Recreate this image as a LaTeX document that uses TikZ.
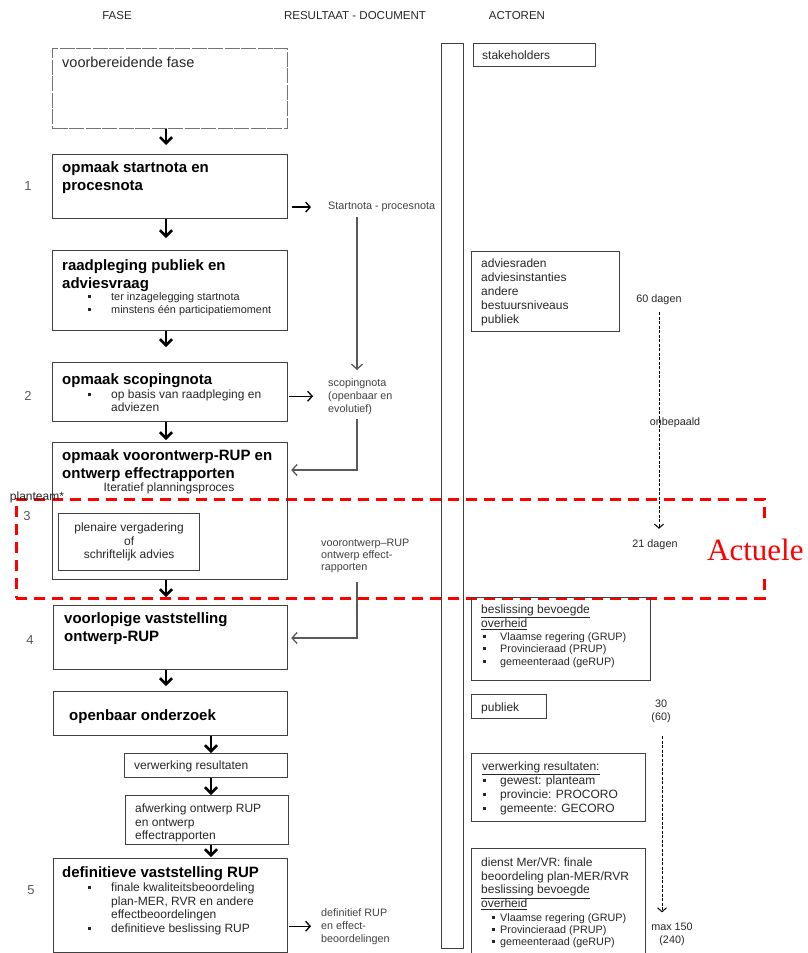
\documentclass[tikz,border=0pt]{standalone}
\usepackage{fontspec}
\setmainfont{Liberation Sans}
\newfontfamily\serifred{Liberation Serif}
\usetikzlibrary{arrows.meta}
\definecolor{boxc}{gray}{0.25}
\definecolor{txtc}{gray}{0.15}
\definecolor{smc}{gray}{0.25}
\definecolor{numc}{gray}{0.35}
\newcommand\mybul{\makebox[23pt][l]{\rule[2.4pt]{3pt}{3pt}}}
\newcommand\mybulb{\makebox[17pt][l]{\rule[2.4pt]{3pt}{3pt}}}
\newcommand\mybulc{\makebox[8pt][l]{\rule[2.2pt]{2.6pt}{2.6pt}}}
\begin{document}
\begin{tikzpicture}[x=1pt,y=-1pt,
  box/.style={draw=boxc, line width=1.2pt, inner sep=0pt, anchor=north west},
  txt/.style={inner sep=0pt, anchor=north west, align=left, text=txtc},
  ttl/.style={txt, font=\fontsize{15}{18}\selectfont\bfseries, text=black},
  nrm/.style={txt, font=\fontsize{12}{13.5}\selectfont},
  sml/.style={txt, font=\fontsize{10.8}{13}\selectfont, text=smc},
  hdr/.style={inner sep=0pt, font=\fontsize{11.5}{13}\selectfont, text=txtc},
  num/.style={inner sep=0pt, font=\fontsize{13}{15}\selectfont, text=numc},
  thk/.style={line width=2.2pt, -{Straight Barb[length=6pt,width=12pt,line width=2.6pt]}},
  blk/.style={line width=1.3pt, -{Straight Barb[length=4.5pt,width=10pt]}},
  gr/.style={draw=black!65, line width=1.3pt, -{Straight Barb[length=5pt,width=11pt]}},
  dsh/.style={line width=1pt, dash pattern=on 3pt off 1.5pt, -{Straight Barb[length=4pt,width=9pt]}},
  redbox/.style={draw=red, line width=2.6pt, dash pattern=on 11pt off 7pt, inner sep=0pt, anchor=north west}]
\useasboundingbox (0,0) rectangle (807,953);

% headers
\node[hdr] (h1) at (117,16) {FASE};
\node[hdr] (h2) at (355,16) {RESULTAAT - DOCUMENT};
\node[hdr] (h3) at (517,16) {ACTOREN};

% red frame
\node[redbox, minimum width=748pt, minimum height=99pt] (frame) at (15,498) {};

% left boxes
\node[box, draw=black!55, dash pattern=on 15pt off 1.5pt, minimum width=235pt, minimum height=80pt] (b0) at (52,48) {};
\node[box, minimum width=235pt, minimum height=64pt] (b1) at (52,154) {};
\node[box, minimum width=235pt, minimum height=80pt] (b2) at (52,250) {};
\node[box, minimum width=235pt, minimum height=59pt] (b3) at (52,362) {};
\node[box, minimum width=235pt, minimum height=137pt] (b4) at (52,442) {};
\node[box, minimum width=141pt, minimum height=57pt] (b4i) at (58,513) {};
\node[box, minimum width=234pt, minimum height=64pt] (b5) at (53,605) {};
\node[box, minimum width=234pt, minimum height=44pt] (b6) at (53,691) {};
\node[box, minimum width=163pt, minimum height=24pt] (b7) at (124,753) {};
\node[box, minimum width=163pt, minimum height=49pt] (b8) at (125,795) {};
\node[box, minimum width=234pt, minimum height=94pt] (b9) at (53,858) {};

% right column boxes
\node[box, minimum width=22pt, minimum height=905pt] (col) at (441,43) {};
\node[box, minimum width=122pt, minimum height=23pt] (a0) at (473,43) {};
\node[box, minimum width=148pt, minimum height=80pt] (a1) at (471,251) {};
\node[box, minimum width=179pt, minimum height=83pt] (a2) at (471,597) {};
\node[box, minimum width=75pt, minimum height=24pt] (a3) at (471,694) {};
\node[box, minimum width=174pt, minimum height=68pt] (a4) at (471,753) {};
\node[box, minimum width=174pt, minimum height=110pt] (a5) at (471,848) {};

% left texts
\node[txt, font=\fontsize{14.5}{17}\selectfont] (t0) at (62,56.6) {voorbereidende fase};
\node[ttl] (t1) at (62,161.5) {opmaak startnota en\\procesnota};
\node[ttl] (t2) at (62,259.5) {raadpleging publiek en\\adviesvraag};
\node[txt, font=\fontsize{10.9}{13}\selectfont] (t2b) at (88,292) {\mybul ter inzagelegging startnota\\\mybul minstens één participatiemoment};
\node[ttl] (t3) at (62,373.5) {opmaak scopingnota};
\node[nrm, font=\fontsize{12}{13}\selectfont] (t3b) at (88,389.6) {\mybul op basis van raadpleging en\\\hspace*{23pt}adviezen};
\node[ttl] (t4) at (62,449.5) {opmaak voorontwerp-RUP en\\ontwerp effectrapporten};
\node[inner sep=0pt, font=\fontsize{12}{13.5}\selectfont, text=txtc] (t4b) at (169,488) {Iteratief planningsproces};
\node[inner sep=0pt, align=center, font=\fontsize{12}{13.5}\selectfont, text=txtc] (t4i) at (b4i.center) {plenaire vergadering\\of\\schriftelijk advies};
\node[ttl] (t5) at (64,612.5) {voorlopige vaststelling\\ontwerp-RUP};
\node[ttl] (t6) at (69,709.5) {openbaar onderzoek};
\node[nrm] (t7) at (134,760.6) {verwerking resultaten};
\node[nrm] (t8) at (135,803.6) {afwerking ontwerp RUP\\en ontwerp\\effectrapporten};
\node[ttl] (t9) at (62,866.5) {definitieve vaststelling RUP};
\node[nrm] (t9b) at (88,882.6) {\mybul finale kwaliteitsbeoordeling\\\hspace*{23pt}plan-MER, RVR en andere\\\hspace*{23pt}effectbeoordelingen\\\mybul definitieve beslissing RUP};

% numbers
\node[num] (n1) at (28,186) {1};
\node[num] (n2) at (28,396) {2};
\node[num] (n3) at (27,516) {3};
\node[num] (n4) at (30,640) {4};
\node[num] (n5) at (31,890) {5};
\node[inner sep=0pt, font=\fontsize{12}{13}\selectfont, text=txtc] (pt) at (37,497) {planteam*};

% middle column texts
\node[sml] (sn) at (328,202) {Startnota - procesnota};
\node[sml] (sc) at (328,378) {scopingnota\\(openbaar en\\evolutief)};
\node[sml, font=\fontsize{10.8}{12}\selectfont] (vr) at (321,539) {voorontwerp–RUP\\ontwerp effect-\\rapporten};
\node[sml] (df) at (321,908) {definitief RUP\\en effect-\\beoordelingen};

% right texts
\node[nrm] (s0) at (482,50.6) {stakeholders};
\node[nrm, font=\fontsize{12}{14}\selectfont] (s1) at (481,258.6) {adviesraden\\adviesinstanties\\andere\\bestuursniveaus\\publiek};
\node[nrm, font=\fontsize{12}{14}\selectfont] (s2) at (481,604.6) {\underline{beslissing bevoegde}\\\underline{overheid}};
\node[txt, font=\fontsize{10.8}{12.7}\selectfont] (s2b) at (483,632) {\mybulb Vlaamse regering (GRUP)\\\mybulb Provincieraad (PRUP)\\\mybulb gemeenteraad (geRUP)};
\node[nrm] (s3) at (481,702.6) {publiek};
\node[nrm] (s4) at (482,761.6) {\underline{verwerking resultaten:}};
\node[nrm, font=\fontsize{12}{14}\selectfont] (s4b) at (483,775.6) {\mybulb gewest: planteam\\\mybulb provincie: PROCORO\\\mybulb gemeente: GECORO};
\node[nrm, font=\fontsize{12}{13.7}\selectfont] (s5) at (481,857.6) {dienst Mer/VR: finale\\beoordeling plan-MER/RVR\\\underline{beslissing bevoegde}\\\underline{overheid}};
\node[txt, font=\fontsize{10.8}{12}\selectfont] (s5b) at (492,913) {\mybulc Vlaamse regering (GRUP)\\\mybulc Provincieraad (PRUP)\\\mybulc gemeenteraad (geRUP)};

% durations
\node[inner sep=0pt, font=\fontsize{10.8}{13}\selectfont, text=txtc] (d60) at (659,300) {60 dagen};
\node[inner sep=0pt, font=\fontsize{10.8}{13}\selectfont, text=txtc] (don) at (675,423) {onbepaald};
\node[inner sep=0pt, font=\fontsize{10.8}{13}\selectfont, text=txtc] (d21) at (655,545) {21 dagen};
\node[inner sep=0pt, align=center, font=\fontsize{10.8}{13}\selectfont, text=txtc] (d30) at (661,711.5) {30\\(60)};
\node[inner sep=0pt, align=center, font=\fontsize{10.8}{13}\selectfont, text=txtc] (dmx) at (672,934) {max 150\\(240)};

% Actuele label
\node[anchor=base west, font=\serifred\fontsize{31}{31}\selectfont, text=red, fill=white, inner xsep=2pt, inner ysep=13pt] (lbl) at (705,560) {Actuele};

% helper coordinates
\coordinate (ca) at (166,0);
\coordinate (cb) at (211,0);
\coordinate (mc) at (357,0);
\coordinate (k1) at (357,470);
\coordinate (k2) at (357,638);

% thick flow arrows
\draw[thk, shorten >=9pt] (b0.south -| ca) -- (b1.north -| ca);
\draw[thk, shorten >=12pt] (b1.south -| ca) -- (b2.north -| ca);
\draw[thk, shorten >=15pt] (b2.south -| ca) -- (b3.north -| ca);
\draw[thk, shorten >=2pt] (b3.south -| ca) -- (b4.north -| ca);
\draw[thk, shorten >=8pt] (b4.south -| ca) -- (b5.north -| ca);
\draw[thk, shorten >=5pt] (b5.south -| ca) -- (b6.north -| ca);
\draw[thk, shorten >=0pt] (b6.south -| cb) -- (b7.north -| cb);
\draw[thk, shorten >=0pt] (b7.south -| cb) -- (b8.north -| cb);
\draw[thk, shorten >=1pt] (b8.south -| cb) -- (b9.north -| cb);

% result arrows
\draw[blk] ([xshift=4pt]b1.east |- sn.west) -- ([xshift=-17pt]sn.west);
\draw[blk] ([xshift=1pt]b3.east |- sc.west) -- ([xshift=-15pt]sc.west);
\draw[blk] ([xshift=1pt]b9.east |- df.west) -- ([xshift=-10pt]df.west);

% grey document flow
\draw[gr, shorten <=5pt, shorten >=8pt] (sn.south -| mc) -- (sc.north -| mc);
\draw[gr, shorten >=3pt] ([yshift=-5pt]sc.south -| mc) -- (k1) -- (k1 -| b4.east);
\draw[gr, shorten >=3pt] ([yshift=-9pt]vr.south -| mc) -- (k2) -- (k2 -| b5.east);

% duration arrows
\draw[dsh, shorten <=7pt, shorten >=11pt] (d60.south) -- (d60.south |- d21.north);
\draw[dsh, shorten <=13pt, shorten >=10pt] ([xshift=1pt]d30.south) -- ([xshift=1pt]d30.south |- dmx.north);
\end{tikzpicture}
\end{document}
